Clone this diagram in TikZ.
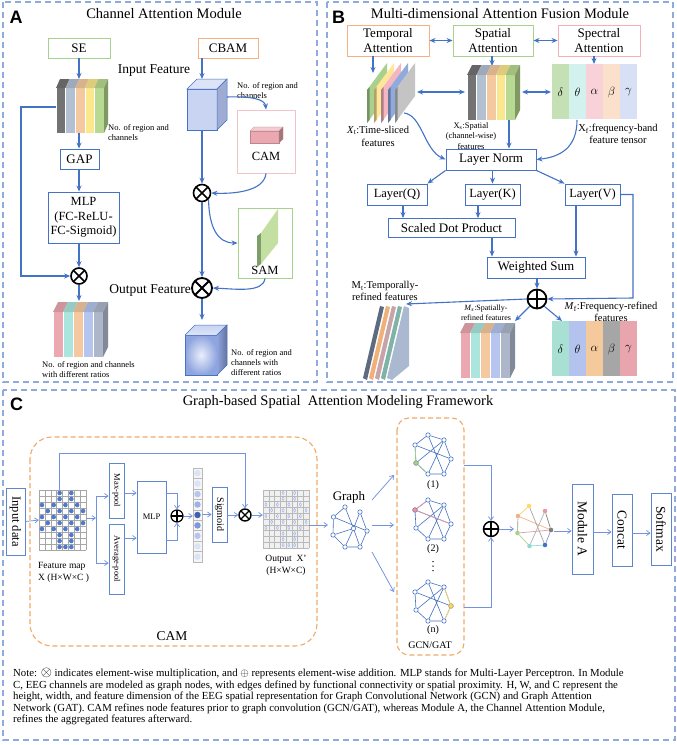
\documentclass[tikz,border=0pt]{standalone}
\usepackage{fontspec}
\setmainfont{Liberation Serif}
\newfontfamily\lblfont{Liberation Sans}
\usetikzlibrary{arrows.meta,calc}
\newcommand{\fs}[2]{\fontsize{#1}{#2}\selectfont}

\definecolor{pbord}{HTML}{8FAADC}
\definecolor{ablue}{HTML}{4472C4}
\definecolor{cblue}{HTML}{7393DE}
\definecolor{bxgreen}{HTML}{A9D18E}
\definecolor{bxorange}{HTML}{F4B183}
\definecolor{bxpink}{HTML}{F2C4CA}
\definecolor{camor}{HTML}{F2A968}
\definecolor{sgray}{HTML}{737373}
\definecolor{sbluegray}{HTML}{B3C0D2}
\definecolor{speach}{HTML}{F5C9A0}
\definecolor{syellow}{HTML}{FBE88C}
\definecolor{sgreen}{HTML}{B8D991}
\definecolor{spink}{HTML}{EBA8B0}
\definecolor{scyan}{HTML}{AAE6DE}
\definecolor{slblue}{HTML}{B5C5EF}
\definecolor{sgb}{HTML}{ADB7C9}
\definecolor{tgreen}{HTML}{A9D18E}
\definecolor{tyellow}{HTML}{FFE699}
\definecolor{tpink}{HTML}{F4B6C2}
\definecolor{tblue}{HTML}{8FAADC}
\definecolor{tgray}{HTML}{C4C4C4}
\definecolor{fgreen}{HTML}{C5E0B4}
\definecolor{fcyan}{HTML}{D3F1EF}
\definecolor{fpink}{HTML}{F8D2D8}
\definecolor{fpeach}{HTML}{FBE1CB}
\definecolor{fblue}{HTML}{D8E0F5}
\definecolor{mteal}{HTML}{A8E0D4}
\definecolor{mblue}{HTML}{B3C3EE}
\definecolor{morange}{HTML}{F4C99C}
\definecolor{mgray}{HTML}{A6A6A6}
\definecolor{mpink}{HTML}{E8A5AD}
\definecolor{mslate}{HTML}{5D6B80}
\definecolor{tor}{HTML}{F0B07A}
\definecolor{tmauve}{HTML}{C9A3AA}
\definecolor{tteal}{HTML}{7EB3A6}
\definecolor{tbg}{HTML}{AAB8D0}
\definecolor{cubef}{HTML}{C9D4F2}
\definecolor{cubet}{HTML}{DDE4F7}
\definecolor{cubes}{HTML}{9EABD3}
\definecolor{cubeb}{HTML}{8FA5E0}
\definecolor{dotb}{HTML}{4F79CC}
\definecolor{vca}{HTML}{DCE3F6}
\definecolor{vcb}{HTML}{B7C6EE}
\definecolor{vcc}{HTML}{9DB2E8}
\definecolor{vcd}{HTML}{7E97DD}
\definecolor{vce}{HTML}{3F5FB5}
\definecolor{gyel}{HTML}{FFD966}
\definecolor{gora}{HTML}{F4B183}
\definecolor{gpin}{HTML}{E39AA6}
\definecolor{ggra}{HTML}{7F7F7F}
\definecolor{ggre}{HTML}{A9D18E}
\definecolor{gcya}{HTML}{8ED9D0}
\definecolor{gblu}{HTML}{4472C4}

\tikzset{
 pborder/.style={draw=pbord, line width=1.1pt, dash pattern=on 6pt off 4pt},
 arr/.style={draw=ablue, line width=1.1pt, -{Stealth[length=6pt,width=5pt]}},
 darr/.style={draw=ablue, line width=1.1pt, {Stealth[length=6pt,width=5pt]}-{Stealth[length=6pt,width=5pt]}},
 carr/.style={draw=cblue, line width=0.75pt, -{Straight Barb[length=3.5pt,width=5pt]}},
 cline/.style={draw=cblue, line width=0.75pt},
 abox/.style={draw=ablue, line width=0.9pt, fill=white, inner sep=1pt, align=center},
 cbox/.style={draw=ablue!85, line width=0.8pt, fill=white, inner sep=0pt},
 otim/.style={circle, draw=black, line width=#1, inner sep=0pt, fill=white,
   path picture={\draw[line width=#1] (path picture bounding box.north west) -- (path picture bounding box.south east) (path picture bounding box.north east) -- (path picture bounding box.south west);}},
 oplu/.style={circle, draw=black, line width=#1, inner sep=0pt, fill=white,
   path picture={\draw[line width=#1] (path picture bounding box.north) -- (path picture bounding box.south) (path picture bounding box.east) -- (path picture bounding box.west);}},
 gn/.style={circle, draw=ablue, fill=white, line width=0.6pt, inner sep=0pt, minimum size=4.4pt},
 ge/.style={draw=ablue, line width=0.6pt},
 txt/.style={inner sep=0pt, align=center},
 lbl/.style={inner sep=0pt, font=\lblfont\bfseries\fs{18}{18}},
 ttl/.style={inner sep=0pt, font=\fs{14.5}{16}},
 gridc/.style={draw=gray!70, line width=0.35pt},
 notetxt/.style={inner sep=0pt, anchor=base west, font=\fs{10.8}{12}},
}

\newcommand{\slab}[8]{%
 \foreach \slc [count=\i from 0] in {#7} {
  \pgfmathsetmacro{\xa}{#1+\i*#3}
  \fill[fill=\slc] (\xa,#2) rectangle ++(#3,#4);
  \fill[fill=\slc!88!black] (\xa,#2) -- ++(#5,#6) -- ++(#3,0) -- (\xa+#3,#2) -- cycle;
  \draw[white, line width=0.3pt] (\xa,#2) -- ++(0,#4);
 }
 \fill[fill=#8] (#1+5*#3,#2) -- ++(#5,#6) -- ++(0,#4) -- (#1+5*#3,#2+#4) -- cycle;
}
\newcommand{\cubeA}[5]{%
 \fill[cubef, draw=ablue, line width=0.5pt] (#1,#2) rectangle ++(#3,#4);
 \fill[cubet, draw=ablue, line width=0.5pt] (#1,#2) -- ++(#5,-#5) -- ++(#3,0) -- (#1+#3,#2) -- cycle;
 \fill[cubes, draw=ablue, line width=0.5pt] (#1+#3,#2) -- ++(#5,-#5) -- ++(0,#4) -- (#1+#3,#2+#4) -- cycle;
}
\newcommand{\dotpat}{3/0,5/0,3/1,5/1,0/2,2/2,4/2,6/2,1/3,3/3,5/3,7/3,0/4,2/4,4/4,6/4,1/5,3/5,5/5,7/5,0/6,2/6,4/6,6/6,3/7,5/7,3/8,5/8,3/9,4/9,5/9}
\newcommand{\subg}[2]{%
 \node[gn] (#2a) at (428,435+#1) {};
 \node[gn] (#2b) at (415,445+#1) {};
 \node[gn] (#2c) at (416,463+#1) {};
 \node[gn] (#2d) at (428,474+#1) {};
 \node[gn] (#2e) at (444,474+#1) {};
 \node[gn] (#2f) at (451,459+#1) {};
 \node[gn] (#2g) at (444,440+#1) {};
 \draw[ge] (#2a)--(#2b) (#2b)--(#2c) (#2c)--(#2d) (#2d)--(#2e) (#2e)--(#2f) (#2f)--(#2g) (#2a)--(#2e) (#2b)--(#2f) (#2c)--(#2g) (#2d)--(#2g) (#2a)--(#2g);
}

\begin{document}
\begin{tikzpicture}[x=1pt,y=-1pt]
\useasboundingbox (0,0) rectangle (677,745);
\fill[white] (0,0) rectangle (677,745);

% ================= panel borders
\draw[pborder] (3,2) rectangle (317,382);
\draw[pborder] (327,2) rectangle (673,382);
\draw[pborder] (3,390) rectangle (675,740);

% ================= PANEL A
\node[lbl, anchor=base] (labA) at (16,23) {A};
\node[ttl, anchor=base] (ttlA) at (164,18.3) {Channel Attention Module};

\node[abox, draw=bxgreen, minimum width=62pt, minimum height=20pt, font=\fs{13}{15}] (se) at (79,48) {SE};
\slab{56}{88}{9.6}{45}{4}{-9}{sgray,sbluegray,speach,syellow,sgreen}{sgreen!70!black}
\coordinate (seT) at (79,79);
\coordinate (seB) at (79,133);
\coordinate (seL) at (56,107);
\draw[arr] (se) -- (seT);
\node[txt, anchor=west, align=left, font=\fs{8.5}{10}] (seTxt) at (108,133) {No. of region and\\channels};
\node[abox, minimum width=39pt, minimum height=20pt, font=\fs{13}{15}] (gap) at (79.5,159) {GAP};
\draw[arr] (seB) -- (seB |- gap.north);
\node[abox, minimum width=71pt, minimum height=51pt, font=\fs{12.5}{14.5}] (mlp) at (83.5,217.5) {MLP\\(FC-ReLU-\\FC-Sigmoid)};
\draw[arr] (seB |- gap.south) -- (seB |- mlp.north);
\node[otim=1.6pt, minimum size=16pt] (otA) at (79,276) {};
\draw[arr] (seB |- mlp.south) -- (otA);
\draw[arr] (seL) -- (21,107) -- (21,276) -- (otA);
\coordinate (oA) at (79,301);
\draw[arr] (otA) -- (oA);
\slab{53}{312}{10}{45}{5}{-10}{spink,scyan,speach,slblue,sgb}{sgb!75!black}
\node[txt, anchor=west, align=left, font=\fs{8.5}{10}] (outTxtA) at (42,370) {No. of region and channels\\with different ratios};

% CBAM
\node[abox, draw=bxorange, minimum width=60pt, minimum height=20pt, font=\fs{13}{15}] (cbam) at (228,48) {CBAM};
\coordinate (inT) at (202,79);
\draw[arr] (cbam.south -| inT) -- (inT);
\node[txt, font=\fs{13.5}{15}] (inF) at (154,71) {Input Feature};
\cubeA{187}{89}{30}{41}{10}
\node[txt, anchor=west, align=left, font=\fs{8.5}{10}] (cubeTxt) at (237,91) {No. of region and\\channels};
\coordinate (inB) at (202,130);
\coordinate (inS) at (227,97);
\node[otim=1.6pt, minimum size=17pt] (ot1) at (202,193) {};
\node[otim=1.8pt, minimum size=20pt] (ot2) at (202,288) {};
\draw[arr] (inB) -- (ot1);
% CAM box
\node[draw=bxpink, line width=0.9pt, minimum width=58pt, minimum height=63pt, inner sep=0pt] (camA) at (266,141.5) {};
\fill[spink, draw=spink!80!black, line width=0.3pt] (250,131) rectangle (279,143);
\fill[spink!60, draw=spink!80!black, line width=0.3pt] (250,131) -- (254,127) -- (283,127) -- (279,131) -- cycle;
\fill[spink!70!black, draw=spink!80!black, line width=0.3pt] (279,131) -- (283,127) -- (283,139) -- (279,143) -- cycle;
\node[txt, font=\fs{12.5}{14}] (camTxt) at (266,156) {CAM};
\draw[arr] (inS) .. controls (250,96) and (265,99) .. (camA.north);
\draw[arr] (camA.south) .. controls (264,192) and (232,194) .. (ot1.east);
\draw[arr] (ot1) -- (ot2);
% SAM box
\node[draw=bxgreen, line width=0.9pt, minimum width=54pt, minimum height=70pt, inner sep=0pt] (samA) at (265,243) {};
\fill[bxgreen!75!black] (257,236) -- (261,233) -- (261,264) -- (257,267) -- cycle;
\fill[sgreen!85] (261,233) -- (278,209) -- (278,243) -- (261,264) -- cycle;
\node[txt, font=\fs{12.5}{14}] (samTxt) at (265,270) {SAM};
\draw[arr] (ot1.south east) .. controls (209,228) and (218,243) .. (samA.west);
\draw[arr] (samA.south) .. controls (263,293) and (236,289) .. (ot2.east);
\node[txt, anchor=east, font=\fs{13.5}{15}] (outF) at (191,290) {Output Feature};
\coordinate (ocT) at (202,320);
\draw[arr] (ot2) -- (ocT);
\shade[inner color=cubet!60!white, outer color=cubeb] (185,335) rectangle (217,375);
\draw[ablue, line width=0.5pt] (185,335) rectangle (217,375);
\shade[top color=cubef, bottom color=cubet] (185,335) -- (195,325) -- (227,325) -- (217,335) -- cycle;
\draw[ablue, line width=0.5pt] (185,335) -- (195,325) -- (227,325) -- (217,335);
\shade[left color=cubeb, right color=cubeb!70!black] (217,335) -- (227,325) -- (227,365) -- (217,375) -- cycle;
\draw[ablue, line width=0.5pt] (217,335) -- (227,325) -- (227,365) -- (217,375);
\node[txt, anchor=west, align=left, font=\fs{8.5}{10}] (outTxtC) at (231,363) {No. of region and\\channels with\\different ratios};

% ================= PANEL B
\node[lbl, anchor=base] (labB) at (338.5,23) {B};
\node[ttl, anchor=base] (ttlB) at (500,18.3) {Multi-dimensional Attention Fusion Module};
\node[abox, draw=bxorange, minimum width=82pt, minimum height=31pt, font=\fs{13}{15.5}] (tem) at (388,40.5) {Temporal\\Attention};
\node[abox, draw=bxgreen, minimum width=80pt, minimum height=31pt, font=\fs{13}{15.5}] (spa) at (493,40.5) {Spatial\\Attention};
\node[abox, draw=bxpink!90!red, minimum width=82pt, minimum height=31pt, font=\fs{13}{15.5}] (spe) at (599,40.5) {Spectral\\Attention};
\draw[darr] (tem.east) -- (spa.west);
\draw[darr] (spa.east) -- (spe.west);
% Xt sheets
\coordinate (xtT) at (373,73);
\draw[arr] (tem.south -| xtT) -- (xtT);
\foreach \xx/\slc in {367/tgreen,374/tyellow,381/tpink,388/tblue,395/tgray}{
 \fill[\slc] (\xx,123) -- (\xx,90) -- (\xx+20,63) -- (\xx+20,96) -- cycle;
 \fill[\slc!70!black] (\xx,123) -- (\xx,90) -- (\xx+2.5,87) -- (\xx+2.5,120) -- cycle;
}
\node[txt, font=\fs{10.5}{13}] (xtTxt) at (378,136) {\textit{X}\textsubscript{t}:Time-sliced\\features};
% Xs block
\coordinate (xsT) at (492,66);
\draw[arr] (spa.south -| xsT) -- (xsT);
\slab{467}{75}{9.6}{45}{5}{-10}{sgray,sbluegray,speach,syellow,sgreen}{sgreen!70!black}
\node[txt, font=\fs{8.5}{10.5}] (xsTxt) at (471,136) {X\textsubscript{s}:Spatial\\(channel-wise)\\features};
\coordinate (xtR) at (417,92);
\coordinate (xsL) at (465,92);
\coordinate (xsR) at (522,92);
\coordinate (xfL) at (551,92);
\draw[darr] (xtR) -- (xsL);
\draw[darr] (xsR) -- (xfL);
% Xf tensor
\coordinate (xfT) at (594,64);
\draw[arr] (spe.south -| xfT) -- (xfT);
\foreach \slc [count=\i from 0] in {fgreen,fcyan,fpink,fpeach,fblue} \fill[\slc] (552+\i*17,64) rectangle ++(17,55);
\foreach \g [count=\i from 0] in {\delta,\theta,\alpha,\beta,\gamma} \node[txt, font=\fs{13}{14}] at (560.5+\i*17,92) {$\g$};
\node[txt, font=\fs{10.5}{12.5}] (xfTxt) at (618,134) {X\textsubscript{f}:frequency-band\\feature tensor};
% Layer norm etc
\node[abox, minimum width=90pt, minimum height=21pt, font=\fs{13}{15}] (ln) at (491,159.5) {Layer Norm};
\coordinate (xsB) at (509,120);
\draw[arr] (xsB) -- (xsB |- ln.north);
\coordinate (xtC) at (404,113);
\draw[arr] (xtC) .. controls (422,115) and (424,150) .. (ln.west);
\coordinate (xfB) at (577,120);
\draw[arr] (xfB) .. controls (577,148) and (560,157) .. (ln.east);
\node[abox, minimum width=60pt, minimum height=21pt, font=\fs{12.5}{15}] (lq) at (397,194.5) {Layer(Q)};
\node[abox, minimum width=55pt, minimum height=21pt, font=\fs{12.5}{15}] (lk) at (492.5,194.5) {Layer(K)};
\node[abox, minimum width=55pt, minimum height=21pt, font=\fs{12.5}{15}] (lv) at (592.5,194.5) {Layer(V)};
\draw[arr] (ln.south west) -- (lq.north east);
\draw[arr] (ln.south -| lk) -- (lk.north);
\draw[arr] (ln.south east) -- (lv.north west);
\node[abox, minimum width=127pt, minimum height=19pt, font=\fs{13}{15}] (sdp) at (451.5,228) {Scaled Dot Product};
\draw[arr] ([xshift=6pt]lq.south) -- ([xshift=6pt]lq.south |- sdp.north);
\draw[arr] ([xshift=-14.5pt]lk.south) -- ([xshift=-14.5pt]lk.south |- sdp.north);
\node[abox, minimum width=98pt, minimum height=21pt, font=\fs{13}{15}] (ws) at (536,267.5) {Weighted Sum};
\draw[arr] ([xshift=40.5pt]sdp.south) -- ([xshift=40.5pt]sdp.south |- ws.north);
\draw[arr] ([xshift=-16.5pt]lv.south) -- ([xshift=-16.5pt]lv.south |- ws.north);
\node[oplu=1.8pt, minimum size=19pt] (opB) at (537,299) {};
\draw[arr] (ws.south -| opB) -- (opB);
\draw[arr] (lv.east) -- (633,194.5) -- (633,298) -- (opB.east);
\coordinate (mtE) at (406,304);
\coordinate (msE) at (515,321);
\coordinate (mfE) at (562,321);
\draw[arr] (opB.west) -- (mtE);
\draw[arr] (opB.south west) -- (msE);
\draw[arr] (opB.south east) -- (mfE);
\node[txt, font=\fs{10.5}{12}] (mtTxt) at (385,291) {M\textsubscript{t}:Temporally-\\refined features};
\foreach \xx/\slc in {363/mslate,369/tor,375/tmauve,381/tteal}{
 \fill[\slc] (\xx,378) -- (\xx+17,306) -- (\xx+21,307) -- (\xx+4,380) -- cycle;
}
\fill[tbg] (387,378) -- (404,306) -- (409,308) -- (409,366) -- (392,380) -- cycle;
\node[txt, font=\fs{8}{9.5}] (msTxt) at (486,313) {\textit{M}\textsubscript{\textit{s}}:Spatially-\\refined features};
\slab{460}{333}{10}{45}{5}{-10}{spink,scyan,speach,slblue,sgb}{sgb!75!black}
\node[txt, font=\fs{10.5}{11.5}] (mfTxt) at (611,312) {\textit{M}\textsubscript{f}:Frequency-refined\\features};
\foreach \slc [count=\i from 0] in {mteal,mblue,morange,mgray,mpink} \fill[\slc] (552+\i*17,321) rectangle ++(17,55);
\foreach \g [count=\i from 0] in {\delta,\theta,\alpha,\beta,\gamma} \node[txt, font=\fs{13}{14}] at (560.5+\i*17,349) {$\g$};

% ================= PANEL C
\node[lbl, anchor=base] (labC) at (16.5,410.5) {C};
\node[ttl, anchor=base] (ttlC) at (338,405.5) {Graph-based Spatial\ \ Attention Modeling Framework};
\draw[draw=camor, line width=1.1pt, dash pattern=on 5pt off 3pt, rounded corners=22pt] (30,437) rectangle (317,646);
\node[txt, font=\fs{13.5}{15}] (camC) at (172,636) {CAM};
\node[cbox, minimum width=19pt, minimum height=67pt] (inp) at (15.5,521.5) {};
\node[txt, rotate=-90, font=\fs{12.5}{14}] at (inp) {Input data};
% feature map
\node[inner sep=0pt, minimum width=47pt, minimum height=60pt] (fm) at (62.5,520) {};
\foreach \k in {0,...,8} \draw[gridc] (39+\k*5.875,490) -- ++(0,60);
\foreach \k in {0,...,10} \draw[gridc] (39,490+\k*6) -- ++(47,0);
\foreach \cx/\cy in \dotpat \fill[dotb] (39+\cx*5.875+2.94,490+\cy*6+3) circle (2.3);
\draw[carr] (inp.east) -- (fm.west);
\node[txt, anchor=west, align=left, font=\fs{9.5}{12}] (fmTxt) at (38,572) {Feature map\\X (H×W×C )};
\coordinate (spl) at (96,518);
\draw[carr] (fm.east |- spl) -- (spl);
\node[cbox, minimum width=15pt, minimum height=55pt] (maxp) at (116.5,490.5) {};
\node[txt, rotate=-90, font=\fs{8.5}{10}] at (maxp) {Max-pool};
\node[cbox, minimum width=15pt, minimum height=70pt] (avgp) at (116.5,559) {};
\node[txt, rotate=-90, font=\fs{8.5}{10}] at (avgp) {Average-pool};
\draw[cline] (96,496) -- (96,563);
\draw[carr] (96,496) -- (maxp.west |- 96,496);
\draw[carr] (96,563) -- (avgp.west |- 96,563);
\node[cbox, minimum width=29pt, minimum height=72pt, font=\fs{8.5}{10}] (mlpc) at (151.5,517) {MLP};
\draw[carr] (maxp.east |- 0,493) -- (mlpc.west |- 0,493);
\draw[carr] (avgp.east |- 0,538) -- (mlpc.west |- 0,538);
\node[oplu=1.2pt, minimum size=12pt] (opC) at (177,516) {};
\draw[carr] (mlpc.east |- 0,493) -- (177,493) -- (opC.north);
\draw[carr] (mlpc.east |- 0,540) -- (177,540) -- (opC.south);
% vector
\node[inner sep=0pt, minimum width=9pt, minimum height=94pt] (vec) at (197.5,515) {};
\foreach \k/\vc in {0/vca,1/vca,2/vcb,3/vcc,4/vce,5/vcd,6/vcb,7/vca,8/vca} {
 \fill[gray!8] (193,468+\k*10.44) rectangle ++(9,10.44);
 \draw[gray!55, line width=0.4pt] (193,468+\k*10.44) rectangle ++(9,10.44);
 \fill[\vc] (197.5,468+\k*10.44+5.22) circle (3.2);
}
\draw[carr] (opC.east) -- (vec.west |- opC);
\node[cbox, minimum width=15pt, minimum height=55pt] (sig) at (219.5,514.5) {};
\node[txt, rotate=-90, font=\fs{10}{12}] at (sig) {Sigmoid};
\draw[carr] (vec.east |- sig) -- (sig.west);
\node[otim=1.4pt, minimum size=12pt] (otC) at (245,515) {};
\draw[carr] (sig.east |- otC) -- (otC.west);
\draw[carr] (fm.north -| 59,0) -- (59,453) -- (245,453) -- (otC.north);
% output grid
\node[inner sep=0pt, minimum width=46pt, minimum height=58pt] (og) at (286,519) {};
\fill[gray!12] (263,490) rectangle (309,548);
\foreach \k in {0,...,8} \draw[draw=gray!55, line width=0.35pt] (263+\k*5.75,490) -- ++(0,58);
\foreach \k in {0,...,10} \draw[draw=gray!55, line width=0.35pt] (263,490+\k*5.8) -- ++(46,0);
\foreach \cx/\cy in \dotpat \draw[cblue!70, line width=0.45pt] (263+\cx*5.75+2.875,490+\cy*5.8+2.9) ellipse (1.1 and 1.9);
\draw[carr] (otC.east) -- (og.west |- otC);
\node[txt, font=\fs{9.5}{12}] (ogTxt) at (286,565) {Output\ \ X'\\(H×W×C)};
% graph
\node[txt, font=\fs{13}{15}] (grTxt) at (349,497) {Graph};
\node[gn] (g1) at (345,507) {};
\node[gn] (g2) at (360,512) {};
\node[gn] (g3) at (333.5,517) {};
\node[gn] (g4) at (353.5,528.5) {};
\node[gn] (g5) at (367,531) {};
\node[gn] (g6) at (333,535) {};
\node[gn] (g7) at (345,547) {};
\node[gn] (g8) at (360,547) {};
\draw[ge] (g1)--(g3) (g1)--(g4) (g3)--(g5) (g3)--(g6) (g6)--(g4) (g6)--(g7) (g7)--(g4) (g7)--(g8) (g4)--(g8) (g8)--(g5) (g5)--(g2) (g2)--(g4);
\coordinate (gIn) at (328,525);
\draw[carr] (og.east |- gIn) -- (gIn);
\coordinate (gA) at (372,500);
\coordinate (gB) at (372,525);
\coordinate (gC) at (372,552);
\coordinate (t1) at (394,475);
\coordinate (t2) at (394,525);
\coordinate (t3) at (394,592);
\draw[carr] (gA) -- (t1);
\draw[carr] (gB) -- (t2);
\draw[carr] (gC) -- (t3);
% GCN/GAT box
\draw[draw=camor, line width=1.1pt, dash pattern=on 5pt off 3pt, rounded corners=12pt] (397,418) rectangle (464,655);
\subg{0}{sa}
\subg{65}{sb}
\subg{147}{sc}
\draw[ggre, line width=0.7pt] (sab)--(sac)--(sad);
\node[gn, draw=ggre!80!black, fill=ggre] at (sac) {};
\draw[gpin, line width=0.7pt] (sba)--(sbb)--(sbf);
\node[gn, draw=gpin!80!black, fill=gpin] at (sbb) {};
\draw[gyel, line width=0.7pt] (scg)--(scf)--(sce);
\node[gn, draw=gyel!80!black, fill=gyel] at (scf) {};
\node[txt, font=\fs{10}{12}] (l1) at (433,485) {(1)};
\node[txt, font=\fs{10}{12}] (l2) at (433,549) {(2)};
\foreach \dy in {561.5,566,570.5} \fill[black] (433,\dy) circle (0.75);
\node[txt, font=\fs{10}{12}] (l4) at (433,630) {(n)};
\node[txt, font=\fs{10}{12}] (gcnTxt) at (430,645) {GCN/GAT};
\node[oplu=1.5pt, minimum size=15pt] (opC2) at (491,529) {};
\draw[carr] (464,465) -- (491,465) -- (opC2.north);
\draw[carr] (464,607) -- (491,607) -- (opC2.south);
% coloured graph
\node[circle, inner sep=0pt, minimum size=4.6pt, fill=gyel] (qy) at (529,506) {};
\node[circle, inner sep=0pt, minimum size=4.6pt, fill=gora] (qo) at (518,516) {};
\node[circle, inner sep=0pt, minimum size=4.6pt, fill=gpin] (qp) at (545,511) {};
\node[circle, inner sep=0pt, minimum size=4.6pt, fill=ggra] (qg) at (551,530) {};
\node[circle, inner sep=0pt, minimum size=4.6pt, fill=ggre] (qr) at (517.5,533) {};
\node[circle, inner sep=0pt, minimum size=4.6pt, fill=gcya] (qc) at (529.5,546) {};
\node[circle, inner sep=0pt, minimum size=4.6pt, fill=gblu] (qb) at (545,545) {};
\draw[gyel!80!gora, line width=0.7pt] (qo)--(qy);
\draw[ggra!80, line width=0.7pt] (qo)--(qr);
\draw[gora, line width=0.7pt] (qo)--(qg);
\draw[gpin, line width=0.7pt] (qr)--(qg);
\draw[ggre, line width=0.7pt] (qr)--(qc);
\draw[gcya, line width=0.7pt] (qc)--(qb);
\draw[gblu!70, line width=0.7pt] (qb)--(qg);
\draw[ggra, line width=0.7pt] (qp)--(qg);
\draw[ggra!70, line width=0.7pt] (qy)--(qb);
\draw[ggra!60, line width=0.7pt] (qp)--(qc);
\coordinate (qIn) at (514,529);
\draw[carr] (opC2.east) -- (qIn);
% Module A, Concat, Softmax
\node[cbox, minimum width=21pt, minimum height=90pt] (modA) at (582.5,529) {};
\node[txt, rotate=-90, font=\fs{13.5}{15}] at (modA) {Module A};
\draw[carr] (qg.east |- 0,531) -- (modA.west |- 0,531);
\node[cbox, minimum width=20pt, minimum height=72pt] (conc) at (622,530) {};
\node[txt, rotate=-90, font=\fs{13.5}{15}] at (conc) {Concat};
\draw[carr] (modA.east |- 0,532) -- (conc.west |- 0,532);
\node[cbox, minimum width=20pt, minimum height=72pt] (soft) at (661,529) {};
\node[txt, rotate=-90, font=\fs{13.5}{15}] at (soft) {Softmax};
\draw[carr] (conc.east |- 0,533) -- (soft.west |- 0,533);

% ================= NOTE
\node[notetxt] (n1) at (13,676.5) {Note: {\fs{13.5}{13}$\otimes$} indicates element-wise multiplication, and $\oplus$ represents element-wise addition. MLP stands for Multi-Layer Perceptron. In Module};
\node[notetxt] (n2) at (13,688) {C, EEG channels are modeled as graph nodes, with edges defined by functional connectivity or spatial proximity. H, W, and C represent the};
\node[notetxt] (n3) at (13,699.5) {height, width, and feature dimension of the EEG spatial representation for Graph Convolutional Network (GCN) and Graph Attention};
\node[notetxt] (n4) at (13,711) {Network (GAT). CAM refines node features prior to graph convolution (GCN/GAT), whereas Module A, the Channel Attention Module,};
\node[notetxt] (n5) at (13,722.5) {refines the aggregated features afterward.};
\end{tikzpicture}
\end{document}
